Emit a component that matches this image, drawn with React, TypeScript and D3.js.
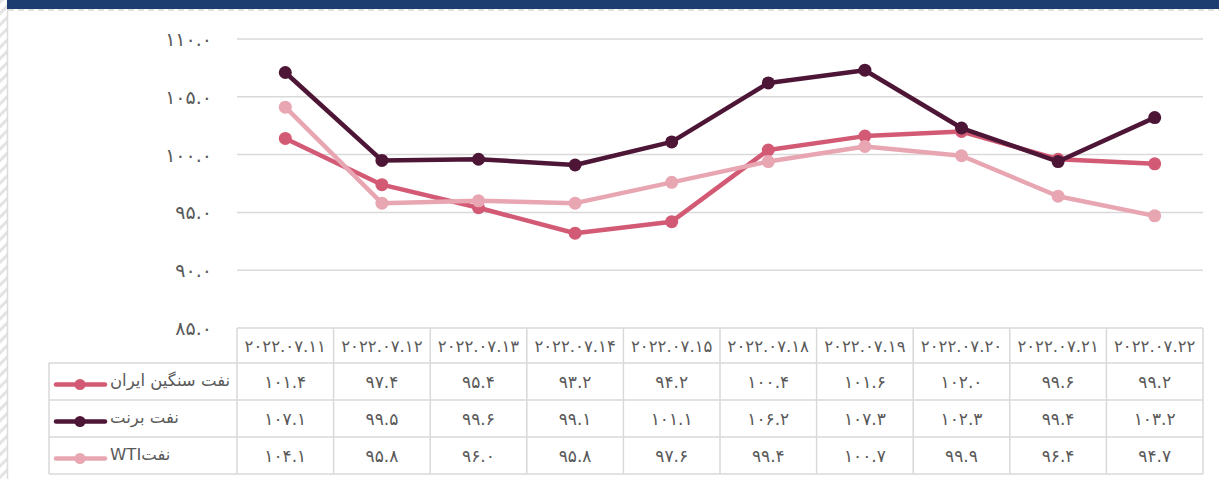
import { useMemo } from "react";
import * as d3 from "d3";

const W = 1219;
const H = 479;

const dates = [
  "2022.07.11", "2022.07.12", "2022.07.13", "2022.07.14", "2022.07.15",
  "2022.07.18", "2022.07.19", "2022.07.20", "2022.07.21", "2022.07.22",
];
const iranHeavy = [101.4, 97.4, 95.4, 93.2, 94.2, 100.4, 101.6, 102.0, 99.6, 99.2];
const brent = [107.1, 99.5, 99.6, 99.1, 101.1, 106.2, 107.3, 102.3, 99.4, 103.2];
const wti = [104.1, 95.8, 96.0, 95.8, 97.6, 99.4, 100.7, 99.9, 96.4, 94.7];
const yTicks = [85, 90, 95, 100, 105, 110];

const series = [
  { name: "نفت سنگین ایران", values: iranHeavy, color: "#d35a74" },
  { name: "نفت برنت", values: brent, color: "#4d1636" },
  { name: "WTIنفت", values: wti, color: "#e8a6b3" },
];

const PLOT = { left: 237, right: 1203, top: 39, bottom: 328 };
const TABLE = { legendLeft: 49, headerH: 35, rowH: 37 };
const GRID = "#d9d9d9";
const TEXT = "#595959";
const FONT = "'DejaVu Sans', 'Noto Sans', sans-serif";

const fa = (s: string) => s.replace(/[0-9]/g, (c) => "۰۱۲۳۴۵۶۷۸۹"[+c]);

export default function App() {
  const x = useMemo(
    () => d3.scaleBand<string>().domain(dates).range([PLOT.left, PLOT.right]).padding(0),
    []
  );
  const y = useMemo(
    () => d3.scaleLinear().domain([85, 110]).range([PLOT.bottom, PLOT.top]),
    []
  );
  const bw = x.bandwidth();
  const cx = (d: string) => (x(d) ?? 0) + bw / 2;

  const line = d3
    .line<number>()
    .x((_, i) => cx(dates[i]))
    .y((v) => y(v));

  const tableTop = PLOT.bottom;
  const rowsTop = tableTop + TABLE.headerH;
  const tableBottom = rowsTop + series.length * TABLE.rowH;

  return (
    <svg
      width={W}
      height={H}
      style={{ position: "absolute", left: 0, top: 0, background: "#fff" }}
      fontFamily={FONT}
    >
      <defs>
        <pattern id="hatch" width="8" height="8" patternUnits="userSpaceOnUse" patternTransform="rotate(45)">
          <rect width="8" height="8" fill="#fff" />
          <rect width="3" height="8" fill="#e3e3e3" />
        </pattern>
      </defs>

      {/* frame */}
      <rect x={0} y={0} width={7} height={H} fill="url(#hatch)" />
      <line x1={7.5} x2={7.5} y1={0} y2={H} stroke="#dcdcdc" strokeWidth={1.5} />
      <rect x={7} y={0} width={W - 7} height={9} fill="#1c3d70" />
      <line x1={8} x2={W} y1={10} y2={10} stroke="#d6d6d6" strokeWidth={1.5} strokeDasharray="6,4" />

      {/* gridlines + y labels */}
      {yTicks.map((t) => (
        <g key={t}>
          {t > 85 && (
            <line x1={PLOT.left} x2={PLOT.right} y1={y(t)} y2={y(t)} stroke={GRID} strokeWidth={1.5} />
          )}
          <text x={212} y={y(t) + 7} textAnchor="end" fontSize={19} fill={TEXT}>
            {fa(d3.format(".1f")(t))}
          </text>
        </g>
      ))}

      {/* lines */}
      {series.map((s) => (
        <g key={s.name}>
          <path d={line(s.values) ?? ""} fill="none" stroke={s.color} strokeWidth={4.5} strokeLinejoin="round" />
          {s.values.map((v, i) => (
            <circle key={i} cx={cx(dates[i])} cy={y(v)} r={6.5} fill={s.color} />
          ))}
        </g>
      ))}

      {/* data table */}
      <g stroke={GRID} strokeWidth={1.5} fill="none">
        <line x1={PLOT.left} x2={PLOT.right} y1={tableTop} y2={tableTop} />
        {series.map((_, i) => (
          <line key={i} x1={TABLE.legendLeft} x2={PLOT.right} y1={rowsTop + i * TABLE.rowH} y2={rowsTop + i * TABLE.rowH} />
        ))}
        <line x1={TABLE.legendLeft} x2={PLOT.right} y1={tableBottom} y2={tableBottom} />
        <line x1={TABLE.legendLeft} x2={TABLE.legendLeft} y1={rowsTop} y2={tableBottom} />
        {dates.map((d) => (
          <line key={d} x1={x(d)} x2={x(d)} y1={tableTop} y2={tableBottom} />
        ))}
        <line x1={PLOT.right} x2={PLOT.right} y1={tableTop} y2={tableBottom} />
      </g>

      {dates.map((d) => (
        <text key={d} x={cx(d)} y={tableTop + TABLE.headerH / 2 + 6} textAnchor="middle" fontSize={16.5} fill={TEXT}>
          {fa(d)}
        </text>
      ))}

      {series.map((s, r) => {
        const rowY = rowsTop + r * TABLE.rowH + TABLE.rowH / 2;
        return (
          <g key={s.name}>
            <line x1={56} x2={105} y1={rowY + 3} y2={rowY + 3} stroke={s.color} strokeWidth={4.5} strokeLinecap="round" />
            <circle cx={80} cy={rowY + 3} r={5.5} fill={s.color} />
            <text x={110} y={rowY + 4} fontSize={16.5} fill={TEXT} direction="ltr">
              {s.name}
            </text>
            {s.values.map((v, i) => (
              <text key={i} x={cx(dates[i])} y={rowY + 6} textAnchor="middle" fontSize={17} fill={TEXT}>
                {fa(d3.format(".1f")(v))}
              </text>
            ))}
          </g>
        );
      })}
    </svg>
  );
}
